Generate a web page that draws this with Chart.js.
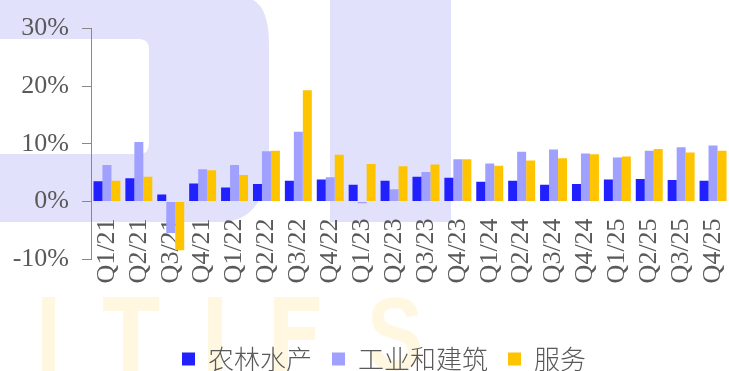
<!DOCTYPE html>
<html><head><meta charset="utf-8">
<script src="https://cdn.jsdelivr.net/npm/chart.js@4/dist/chart.umd.min.js"></script>
<style>html,body{margin:0;padding:0;background:#fff;overflow:hidden}#wrap{width:729px;height:371px;position:relative}</style>
</head><body><div id="wrap"><canvas id="c" width="729" height="371"></canvas></div>
<script>
const categories = ['Q1/21','Q2/21','Q3/21','Q4/21','Q1/22','Q2/22','Q3/22','Q4/22','Q1/23','Q2/23','Q3/23','Q4/23','Q1/24','Q2/24','Q3/24','Q4/24','Q1/25','Q2/25','Q3/25','Q4/25'];
const agriculture = [3.5,4.0,1.2,3.1,2.4,3.0,3.6,3.8,2.9,3.6,4.3,4.1,3.4,3.6,2.9,3.0,3.8,3.9,3.7,3.6];
const industry = [6.3,10.3,-5.5,5.6,6.3,8.7,12.1,4.2,-0.3,2.1,5.1,7.3,6.6,8.6,9.0,8.3,7.6,8.8,9.4,9.7];
const services = [3.6,4.3,-8.5,5.4,4.6,8.8,19.3,8.1,6.5,6.1,6.4,7.3,6.2,7.1,7.5,8.2,7.8,9.1,8.5,8.8];
const seriesNames = ['农林水产','工业和建筑','服务'];
const yTicks = [-10,0,10,20,30];

const watermark = {
  id: 'watermark',
  afterLayout(chart) {
    chart.legend.left += 18;
    chart.legend.right += 18;
  },
  beforeDraw(chart) {
    const ctx = chart.ctx;
    ctx.save();
    ctx.fillStyle = '#e1e1fc';
    ctx.beginPath();
    ctx.moveTo(0,0); ctx.lineTo(253,0);
    ctx.quadraticCurveTo(269,8,269,45);
    ctx.lineTo(269,150);
    ctx.quadraticCurveTo(269,222,220,222);
    ctx.lineTo(0,222); ctx.closePath();
    ctx.moveTo(0,39); ctx.lineTo(139,39);
    ctx.quadraticCurveTo(149,39,149,49);
    ctx.lineTo(149,144);
    ctx.quadraticCurveTo(149,154,139,154);
    ctx.lineTo(0,154); ctx.closePath();
    ctx.fill('evenodd');
    ctx.fillRect(330,0,121,222);
    ctx.fillStyle = '#fff7e0';
    ctx.fillRect(42,297,13,80);
    ctx.fillRect(103,297,56,14); ctx.fillRect(123,297,15,80);
    ctx.fillRect(208,297,14,80);
    ctx.fillRect(274,297,14,80); ctx.fillRect(274,297,45,14); ctx.fillRect(274,327,41,13);
    ctx.font = 'bold 104px "Liberation Sans"';
    ctx.textBaseline = 'alphabetic';
    const w = ctx.measureText('S').width;
    ctx.translate(367, 370);
    ctx.scale(56 / w, 1);
    ctx.fillText('S', 0, 0);
    ctx.restore();
  }
};

const tickFont = {family: '"Liberation Serif", "Times New Roman", serif', size: 26};

new Chart(document.getElementById('c'), {
  type: 'bar',
  data: {
    labels: categories,
    datasets: [
      {label: seriesNames[0], data: agriculture, backgroundColor: '#2121ff'},
      {label: seriesNames[1], data: industry, backgroundColor: '#a0a0ff'},
      {label: seriesNames[2], data: services, backgroundColor: '#ffc400'}
    ]
  },
  options: {
    responsive: false,
    devicePixelRatio: 1,
    animation: false,
    layout: {padding: {left: 0, right: -3, top: 25, bottom: -11}},
    datasets: {bar: {categoryPercentage: 0.845, barPercentage: 1.0}},
    scales: {
      x: {
        position: {y: 0},
        z: 1,
        afterFit(scale) { scale.paddingRight = -3; scale.paddingLeft = 0; },
        grid: {display: false, drawTicks: false},
        border: {display: false},
        ticks: {minRotation: 90, maxRotation: 90, autoSkip: false, padding: 17, color: '#595959', font: tickFont}
      },
      y: {
        min: -10, max: 30,
        afterBuildTicks(scale) { scale.ticks = yTicks.map(v => ({value: v})); },
        afterFit(scale) { scale.width = 91; scale.paddingRight = -3; },
        grid: {drawOnChartArea: false, drawTicks: true, tickLength: 9, color: '#898989'},
        border: {display: true, color: '#898989', width: 1},
        ticks: {padding: 13, color: '#595959', font: tickFont, callback: v => v + '%'}
      }
    },
    plugins: {
      legend: {
        position: 'bottom',
        title: {display: true, text: ' ', font: {size: 10, lineHeight: 1}, padding: {top: 57, bottom: 0}},
        labels: {boxWidth: 13, boxHeight: 13, padding: 20, color: '#595959',
          font: {family: '"Noto Sans CJK SC", sans-serif', size: 26, weight: '300'}}
      },
      tooltip: {enabled: false}
    }
  },
  plugins: [watermark]
});
</script>
</body></html>
